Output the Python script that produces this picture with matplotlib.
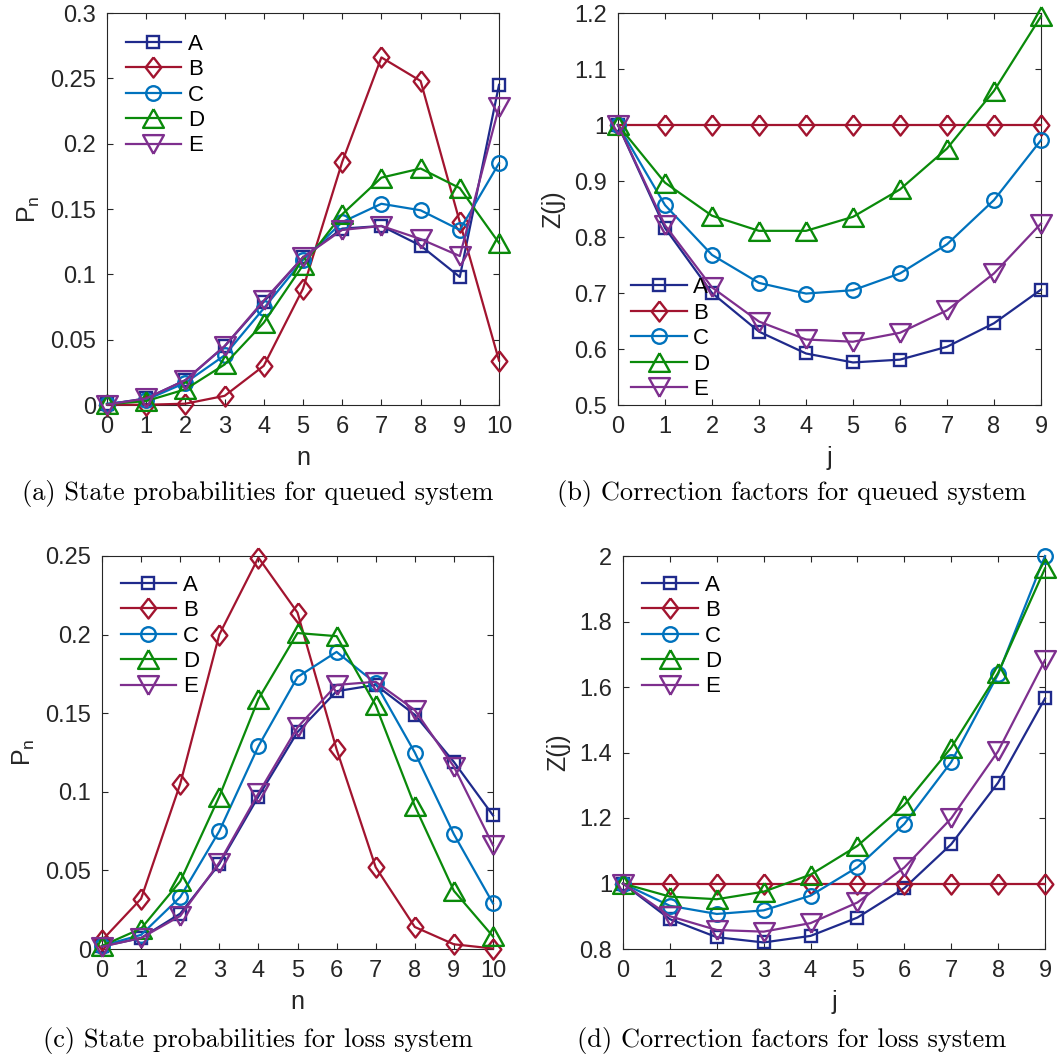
import matplotlib
matplotlib.use('Agg')
import matplotlib.pyplot as plt

n = list(range(11))
j = list(range(10))
labels = ['A', 'B', 'C', 'D', 'E']

# (a) state probabilities, queued system
pn_queued = {
    'A': [0.0005, 0.005, 0.019, 0.045, 0.079, 0.113, 0.135, 0.137, 0.122, 0.098, 0.245],
    'B': [0.0002, 0.0002, 0.001, 0.007, 0.030, 0.089, 0.186, 0.266, 0.248, 0.140, 0.034],
    'C': [0.001, 0.004, 0.017, 0.038, 0.074, 0.111, 0.140, 0.154, 0.149, 0.134, 0.185],
    'D': [0.0006, 0.003, 0.012, 0.031, 0.063, 0.107, 0.146, 0.174, 0.181, 0.166, 0.124],
    'E': [0.0003, 0.005, 0.019, 0.045, 0.080, 0.113, 0.134, 0.137, 0.127, 0.114, 0.228],
}

# (b) correction factors, queued system
z_queued = {
    'A': [1.0, 0.816, 0.700, 0.631, 0.592, 0.576, 0.581, 0.604, 0.646, 0.706],
    'B': [1.0, 1.0, 1.0, 1.0, 1.0, 1.0, 1.0, 1.0, 1.0, 1.0],
    'C': [1.0, 0.857, 0.768, 0.718, 0.699, 0.705, 0.735, 0.787, 0.866, 0.973],
    'D': [1.0, 0.897, 0.838, 0.811, 0.811, 0.836, 0.885, 0.958, 1.061, 1.194],
    'E': [1.0, 0.821, 0.710, 0.649, 0.617, 0.613, 0.629, 0.669, 0.735, 0.824],
}

# (c) state probabilities, loss system
pn_loss = {
    'A': [0.0017, 0.007, 0.0225, 0.054, 0.097, 0.138, 0.164, 0.168, 0.149, 0.119, 0.085],
    'B': [0.0055, 0.032, 0.105, 0.200, 0.249, 0.214, 0.127, 0.052, 0.014, 0.003, 0.0003],
    'C': [0.002, 0.009, 0.033, 0.075, 0.129, 0.173, 0.189, 0.169, 0.125, 0.073, 0.029],
    'D': [0.002, 0.013, 0.043, 0.097, 0.159, 0.201, 0.199, 0.155, 0.091, 0.037, 0.008],
    'E': [0.0015, 0.007, 0.021, 0.055, 0.099, 0.141, 0.168, 0.170, 0.152, 0.116, 0.066],
}

# (d) correction factors, loss system
z_loss = {
    'A': [1.0, 0.891, 0.836, 0.820, 0.840, 0.896, 0.986, 1.120, 1.308, 1.565],
    'B': [1.0, 1.0, 1.0, 1.0, 1.0, 1.0, 1.0, 1.0, 1.0, 1.0],
    'C': [1.0, 0.932, 0.907, 0.918, 0.963, 1.050, 1.182, 1.371, 1.639, 2.0],
    'D': [1.0, 0.960, 0.952, 0.975, 1.027, 1.115, 1.240, 1.415, 1.643, 1.962],
    'E': [1.0, 0.900, 0.858, 0.853, 0.879, 0.942, 1.049, 1.199, 1.404, 1.682],
}

colors = {'A': '#1f2a8c', 'B': '#a2142f', 'C': '#0072bd', 'D': '#0a8a0a', 'E': '#7e2f8e'}
tri_up = [(0, 0.9), (-1, -0.9), (1, -0.9), (0, 0.9)]
tri_down = [(0, -0.9), (-1, 0.9), (1, 0.9), (0, -0.9)]
diamond = [(0, 1), (0.78, 0), (0, -1), (-0.78, 0), (0, 1)]
markers = {'A': ('s', 9), 'B': (diamond, 14.5), 'C': ('o', 10.5), 'D': (tri_up, 15), 'E': (tri_down, 15)}

plt.rcParams['font.family'] = ['Liberation Sans', 'DejaVu Sans']
plt.rcParams['mathtext.default'] = 'regular'

W, H = 1060, 1057
fig = plt.figure(figsize=(W / 100, H / 100), dpi=100)


def add_axes(left, right, top, bottom):
    return fig.add_axes([left / W, 1 - bottom / H, (right - left) / W, (bottom - top) / H])


def draw(ax, x, series, xlabel, ylabel, ylim, yticks, yticklabels, legend_loc, legend_anchor):
    for key in labels:
        m, ms = markers[key]
        ax.plot(x, series[key], color=colors[key], marker=m, markersize=ms,
                markerfacecolor='none', markeredgewidth=1.7, linewidth=1.6,
                label=key, clip_on=False, zorder=3)
    ax.set_xlim(x[0], x[-1])
    ax.set_ylim(*ylim)
    ax.set_xticks(x)
    ax.set_yticks(yticks)
    ax.set_yticklabels(yticklabels)
    ax.tick_params(direction='in', length=4, width=0.8, top=True, right=True,
                   labelsize=17, colors='#262626', pad=8)
    for s in ax.spines.values():
        s.set_color('#262626')
        s.set_linewidth(0.8)
    ax.set_xlabel(xlabel, fontsize=18, color='#262626', labelpad=6)
    ax.set_ylabel(ylabel, fontsize=18, color='#262626', labelpad=6)
    ax.legend(loc=legend_loc, bbox_to_anchor=legend_anchor, frameon=False, fontsize=16,
              handlelength=2.5, handletextpad=0.3, labelspacing=0.2, borderaxespad=0)


ax_a = add_axes(107, 499, 13, 405)
draw(ax_a, n, pn_queued, 'n', '$P_n$', (0, 0.3),
     [0, 0.05, 0.1, 0.15, 0.2, 0.25, 0.3],
     ['0', '0.05', '0.1', '0.15', '0.2', '0.25', '0.3'],
     'upper left', (0.025, 0.97))

ax_b = add_axes(618, 1041, 13, 405)
draw(ax_b, j, z_queued, 'j', 'Z(j)', (0.5, 1.2),
     [0.5, 0.6, 0.7, 0.8, 0.9, 1.0, 1.1, 1.2],
     ['0.5', '0.6', '0.7', '0.8', '0.9', '1', '1.1', '1.2'],
     'lower left', (0.01, -0.01))

ax_c = add_axes(102, 493, 556, 949)
draw(ax_c, n, pn_loss, 'n', '$P_n$', (0, 0.25),
     [0, 0.05, 0.1, 0.15, 0.2, 0.25],
     ['0', '0.05', '0.1', '0.15', '0.2', '0.25'],
     'upper left', (0.025, 0.975))

ax_d = add_axes(623, 1045, 556, 949)
draw(ax_d, j, z_loss, 'j', 'Z(j)', (0.8, 2.0),
     [0.8, 1.0, 1.2, 1.4, 1.6, 1.8, 2.0],
     ['0.8', '1', '1.2', '1.4', '1.6', '1.8', '2'],
     'upper left', (0.025, 0.975))

captions = [
    (258, 493, '(a) State probabilities for queued system'),
    (792, 493, '(b) Correction factors for queued system'),
    (258, 1040, '(c) State probabilities for loss system'),
    (792, 1040, '(d) Correction factors for loss system'),
]
for cx, cy, text in captions:
    fig.text(cx / W, 1 - cy / H, text, ha='center', va='center',
             family='cmr10', fontsize=19, color='black')

fig.savefig('out.png', dpi=100)
